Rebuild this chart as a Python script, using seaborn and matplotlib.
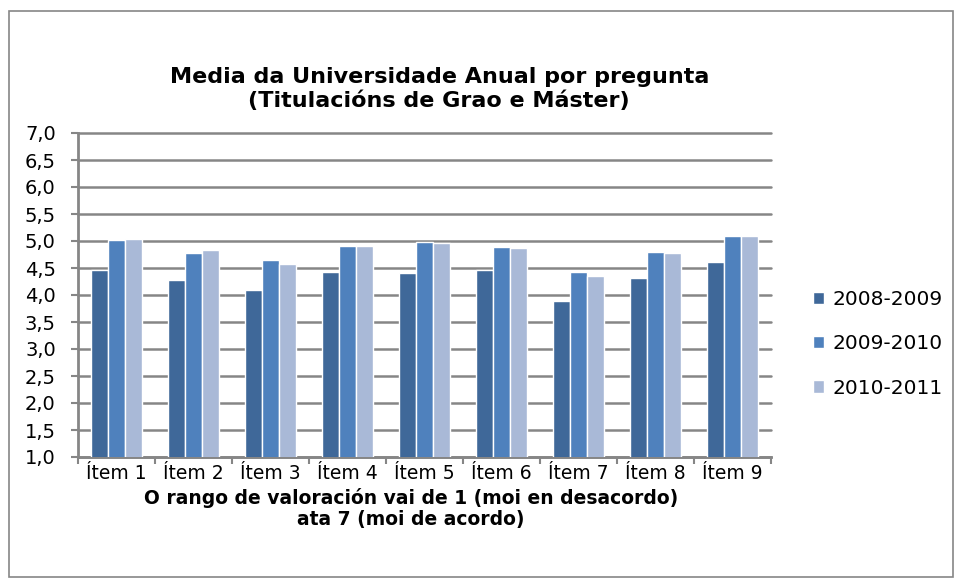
import numpy as np
import pandas as pd
import seaborn as sns
import matplotlib.pyplot as plt
from matplotlib.patches import Rectangle

items = ['Ítem 1', 'Ítem 2', 'Ítem 3', 'Ítem 4', 'Ítem 5', 'Ítem 6', 'Ítem 7', 'Ítem 8', 'Ítem 9']
years = ['2008-2009', '2009-2010', '2010-2011']
v_2008 = [4.46, 4.27, 4.10, 4.43, 4.40, 4.46, 3.89, 4.32, 4.62]
v_2009 = [5.02, 4.78, 4.65, 4.91, 4.98, 4.89, 4.42, 4.80, 5.09]
v_2010 = [5.03, 4.84, 4.57, 4.91, 4.96, 4.87, 4.36, 4.78, 5.09]
yticks = [1.0, 1.5, 2.0, 2.5, 3.0, 3.5, 4.0, 4.5, 5.0, 5.5, 6.0, 6.5, 7.0]

df = pd.DataFrame({
    'item': items * 3,
    'ano': [years[0]] * 9 + [years[1]] * 9 + [years[2]] * 9,
    'media': v_2008 + v_2009 + v_2010,
})

sns.set_style('white')
plt.rcParams['font.family'] = ['DejaVu Sans']
plt.rcParams['text.color'] = 'black'

fig = plt.figure(figsize=(9.55, 5.79), dpi=100)
ax = fig.add_axes([78 / 955, 122 / 579, 693 / 955, 324 / 579])

cols = ['#3f6899', '#4f81bd', '#a9b9d7']
sns.barplot(data=df, x='item', y='media', hue='ano', palette=cols, saturation=1,
            width=0.66, edgecolor='white', linewidth=1, ax=ax, zorder=3)

ax.set_ylim(1, 7)
ax.set_xlim(-0.5, 8.5)
ax.set_yticks(yticks)
ax.set_yticklabels([f'{t:.1f}'.replace('.', ',') for t in yticks], fontsize=14)
ax.yaxis.grid(True, color='#868686', linewidth=1.8, zorder=0)
for gl in ax.get_ygridlines():
    gl.set_clip_on(False)
ax.set_axisbelow(True)
ax.tick_params(axis='y', length=5, width=1.5, color='#868686', left=True, pad=11, labelcolor='black')
ax.tick_params(axis='x', which='major', length=0, labelsize=13.5, pad=5, labelcolor='black')
ax.set_xticks(np.arange(-0.5, 9.0, 1.0), minor=True)
ax.tick_params(axis='x', which='minor', length=5, width=1.5, color='#868686', bottom=True)
for s in ['top', 'right']:
    ax.spines[s].set_visible(False)
for s in ['left', 'bottom']:
    ax.spines[s].set_color('#868686')
    ax.spines[s].set_linewidth(2)
ax.set_xlabel('')
ax.set_ylabel('')

ax.legend(loc='center left', bbox_to_anchor=(1.035, 0.349), frameon=False, fontsize=14.5,
          handlelength=0.55, handleheight=0.55, handletextpad=0.4, labelspacing=1.25)

fig.text(0.46, 0.846, 'Media da Universidade Anual por pregunta\n(Titulacións de Grao e Máster)',
         ha='center', va='center', fontsize=16, fontweight='bold', linespacing=1.2)
fig.text(0.43, 0.122, 'O rango de valoración vai de 1 (moi en desacordo)\nata 7 (moi de acordo)',
         ha='center', va='center', fontsize=13.5, fontweight='bold', linespacing=1.15)

fig.patches.append(Rectangle((9 / 955, 2 / 579), 944 / 955, 566 / 579, transform=fig.transFigure,
                             fill=False, edgecolor='#868686', linewidth=1.2))

plt.savefig('out.png', dpi=100)
